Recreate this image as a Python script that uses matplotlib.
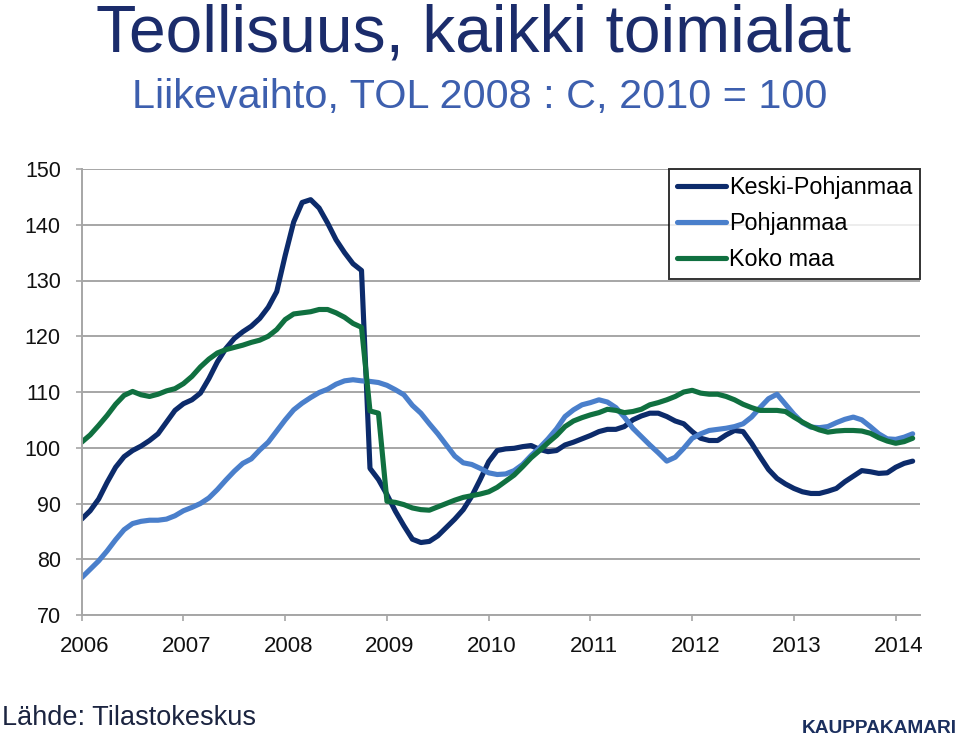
import numpy as np
import matplotlib
matplotlib.use("Agg")
import matplotlib.pyplot as plt
import matplotlib.transforms as mtransforms

plt.rcParams['font.family'] = ['Liberation Sans', 'DejaVu Sans']

# ---- data (monthly, Jan 2006 .. Mar 2014) ----
years = [2006, 2007, 2008, 2009, 2010, 2011, 2012, 2013, 2014]
series_names = ["Keski-Pohjanmaa", "Pohjanmaa", "Koko maa"]

keski_pohjanmaa = [
    87.2, 88.7, 90.8, 93.8, 96.5, 98.4, 99.5, 100.3, 101.3, 102.5,
    104.6, 106.7, 107.9, 108.6, 109.8, 112.4, 115.4, 117.8, 119.6, 120.8,
    121.8, 123.2, 125.2, 128.0, 134.5, 140.5, 144.0, 144.5, 143.0, 140.3,
    137.3, 135.0, 133.0, 131.8, 96.3, 94.3, 91.6, 88.6, 86.0, 83.6,
    83.0, 83.2, 84.2, 85.7, 87.2, 88.9, 91.3, 94.3, 97.5, 99.5,
    99.8, 99.9, 100.2, 100.4, 99.7, 99.3, 99.5, 100.5, 101.0, 101.6,
    102.2, 102.9, 103.3, 103.3, 103.8, 105.0, 105.7, 106.2, 106.2, 105.6,
    104.8, 104.3, 102.9, 101.7, 101.3, 101.3, 102.3, 103.1, 102.9, 100.8,
    98.4, 96.1, 94.5, 93.5, 92.7, 92.1, 91.8, 91.8, 92.2, 92.7,
    93.9, 94.9, 95.9, 95.7, 95.4, 95.5, 96.5, 97.2, 97.6]

pohjanmaa = [
    76.7, 78.2, 79.7, 81.5, 83.5, 85.3, 86.4, 86.8, 87.0, 87.0,
    87.2, 87.8, 88.7, 89.3, 90.0, 91.0, 92.5, 94.2, 95.8, 97.2,
    98.0, 99.6, 101.0, 103.0, 105.0, 106.8, 108.0, 109.0, 109.9, 110.5,
    111.4, 112.0, 112.2, 112.0, 111.9, 111.7, 111.2, 110.4, 109.5, 107.6,
    106.2, 104.3, 102.5, 100.5, 98.5, 97.3, 97.0, 96.3, 95.5, 95.2,
    95.3, 95.9, 97.0, 98.6, 100.0, 101.6, 103.4, 105.6, 106.8, 107.7,
    108.1, 108.6, 108.2, 107.2, 105.5, 103.5, 102.0, 100.5, 99.1, 97.6,
    98.3, 99.9, 101.7, 102.5, 103.1, 103.3, 103.5, 103.8, 104.3, 105.5,
    107.2, 108.8, 109.6, 107.8, 106.0, 104.5, 103.7, 103.6, 103.8, 104.5,
    105.1, 105.5, 105.0, 103.8, 102.5, 101.6, 101.5, 101.9, 102.5]

koko_maa = [
    101.0, 102.3, 104.0, 105.8, 107.8, 109.4, 110.1, 109.5, 109.2, 109.6,
    110.2, 110.6, 111.5, 112.8, 114.5, 115.9, 117.0, 117.6, 118.0, 118.4,
    118.9, 119.3, 120.0, 121.2, 123.0, 124.0, 124.2, 124.4, 124.8, 124.8,
    124.2, 123.4, 122.3, 121.6, 106.6, 106.2, 90.4, 90.2, 89.8, 89.2,
    88.9, 88.8, 89.4, 90.0, 90.6, 91.1, 91.4, 91.7, 92.1, 92.9,
    94.0, 95.1, 96.6, 98.2, 99.5, 100.9, 102.2, 103.8, 104.8, 105.4,
    105.9, 106.3, 106.9, 106.7, 106.3, 106.5, 106.9, 107.7, 108.1, 108.6,
    109.2, 110.0, 110.3, 109.8, 109.6, 109.6, 109.2, 108.6, 107.8, 107.2,
    106.7, 106.7, 106.7, 106.5, 105.5, 104.6, 103.8, 103.2, 102.8, 103.0,
    103.1, 103.1, 103.0, 102.6, 101.8, 101.2, 100.8, 101.1, 101.7]

colors = ["#0c2b6b", "#4a7fcb", "#107040"]
y_ticks = [70, 80, 90, 100, 110, 120, 130, 140, 150]

W, H = 960, 739
fig = plt.figure(figsize=(W / 100, H / 100), dpi=100)
fig.patch.set_facecolor("white")

ax_left, ax_right, ax_top, ax_bot = 81.7, 920.0, 169.0, 615.0
ax = fig.add_axes([ax_left / W, 1 - ax_bot / H, (ax_right - ax_left) / W, (ax_bot - ax_top) / H])

months = np.arange(len(keski_pohjanmaa))
for vals, name, c in zip([keski_pohjanmaa, pohjanmaa, koko_maa], series_names, colors):
    ax.plot(months, vals, color=c, lw=3.7, label=name, solid_joinstyle='round', solid_capstyle='round')

px_per_month = 101.75 / 12
ax.set_xlim(0, (ax_right - ax_left) / px_per_month)
ax.set_ylim(70, 150)

ax.set_yticks(y_ticks)
ax.set_yticklabels([str(v) for v in y_ticks], fontsize=15.5)
ax.set_xticks([(y - 2006) * 12 for y in years])
ax.set_xticklabels([str(y) for y in years], fontsize=16)

grid_c = "#a6a6a6"
ax.grid(axis='y', color=grid_c, lw=1.4, zorder=0)
ax.set_axisbelow(True)
for s in ["top", "right"]:
    ax.spines[s].set_visible(False)
for s in ["left", "bottom"]:
    ax.spines[s].set_color(grid_c)
    ax.spines[s].set_linewidth(1.4)
ax.tick_params(axis='y', length=4, width=1.2, color=grid_c, pad=11, labelcolor="#111111")
ax.tick_params(axis='x', length=4, width=1.2, color=grid_c, pad=11, labelcolor="#111111")

offset = mtransforms.ScaledTranslation(3 / 100, 0, fig.dpi_scale_trans)
for lab in ax.get_xticklabels():
    lab.set_transform(lab.get_transform() + offset)

leg = ax.legend(loc='upper right', bbox_to_anchor=(1.0, 1.0), fontsize=16.8,
                frameon=True, fancybox=False, handlelength=2.1, handletextpad=0.15,
                labelspacing=0.55, borderpad=0.32, borderaxespad=0.0)
leg.get_frame().set_edgecolor("black")
leg.get_frame().set_linewidth(1.4)

fig.text(473 / W, 1 - 52 / H, "Teollisuus, kaikki toimialat", fontsize=47.5,
         color="#1b2c6b", ha='center', va='baseline')
fig.text(480 / W, 1 - 108 / H, "Liikevaihto, TOL 2008 : C, 2010 = 100", fontsize=29.8,
         color="#3d5fae", ha='center', va='baseline')
fig.text(2 / W, 1 - 725 / H, "Lähde: Tilastokeskus", fontsize=19.5,
         color="#1b2440", ha='left', va='baseline')
fig.text(957 / W, 1 - 733 / H, "KAUPPAKAMARI", fontsize=13.8, fontweight='bold',
         color="#1b2f5e", ha='right', va='baseline')

fig.savefig("out.png", dpi=100, facecolor="white")
